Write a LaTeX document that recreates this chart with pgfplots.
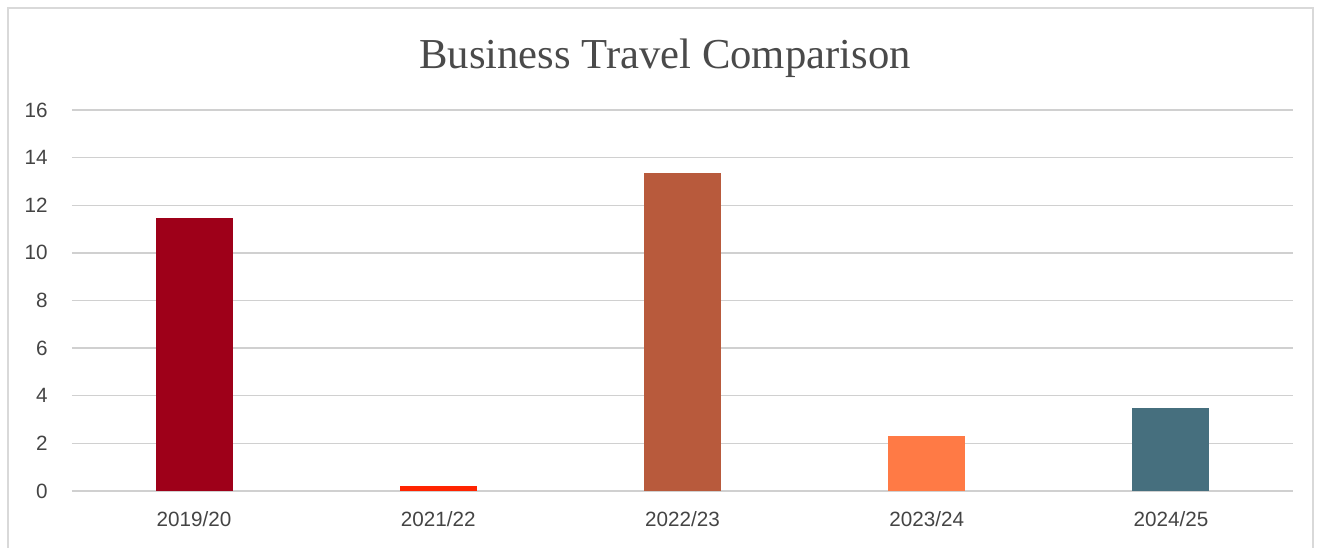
\documentclass[border=0pt]{standalone}
\usepackage{pgfplots}
\pgfplotsset{compat=1.18}
\usepackage{fontspec}
\setmainfont{Liberation Sans}
\newfontfamily\titlefont{Liberation Serif}
\definecolor{bordergray}{HTML}{D9D9D9}
\definecolor{gridgray}{HTML}{D0D0D0}
\definecolor{labelgray}{HTML}{444444}
\definecolor{titlegray}{HTML}{4A4A4A}
\definecolor{cA}{HTML}{9E0019}
\definecolor{cB}{HTML}{FF2400}
\definecolor{cC}{HTML}{B85A3C}
\definecolor{cD}{HTML}{FF7A45}
\definecolor{cE}{HTML}{466F7E}
\begin{document}
\begin{tikzpicture}[x=0.75pt,y=0.75pt]
\useasboundingbox (0,0) rectangle (1322,547);
\draw[color=bordergray, line width=1.5pt] (8,-2) -- (8,539) -- (1313,539) -- (1313,-2);
\node[font=\titlefont\fontsize{32}{36}\selectfont, text=titlegray] at (665,489) {Business Travel Comparison};
\begin{axis}[
  at={(54pt,42pt)}, anchor=south west, scale only axis,
  width=915.75pt, height=285.75pt,
  xmin=-0.5, xmax=4.5, ymin=0, ymax=16,
  ytick={0,2,...,16}, xtick={0,1,2,3,4},
  xticklabels={2019/20,2021/22,2022/23,2023/24,2024/25},
  /pgf/number format/assume math mode=true,
  ymajorgrids, grid style={gridgray, line width=1.1pt},
  axis line style={draw=none}, major tick length=0pt,
  tick label style={font=\fontsize{15.5}{18}\selectfont, text=labelgray},
  yticklabel style={inner sep=0pt, anchor=east, xshift=-18pt},
  xticklabel style={inner sep=0pt, anchor=north, yshift=-15pt},
  ybar, bar width=57.75pt,
  clip=false,
]
\addplot[fill=cA, draw=none, bar shift=0pt] coordinates {(0,11.47)};
\addplot[fill=cB, draw=none, bar shift=0pt] coordinates {(1,0.21)};
\addplot[fill=cC, draw=none, bar shift=0pt] coordinates {(2,13.36)};
\addplot[fill=cD, draw=none, bar shift=0pt] coordinates {(3,2.31)};
\addplot[fill=cE, draw=none, bar shift=0pt] coordinates {(4,3.49)};
\end{axis}
\end{tikzpicture}
\end{document}
